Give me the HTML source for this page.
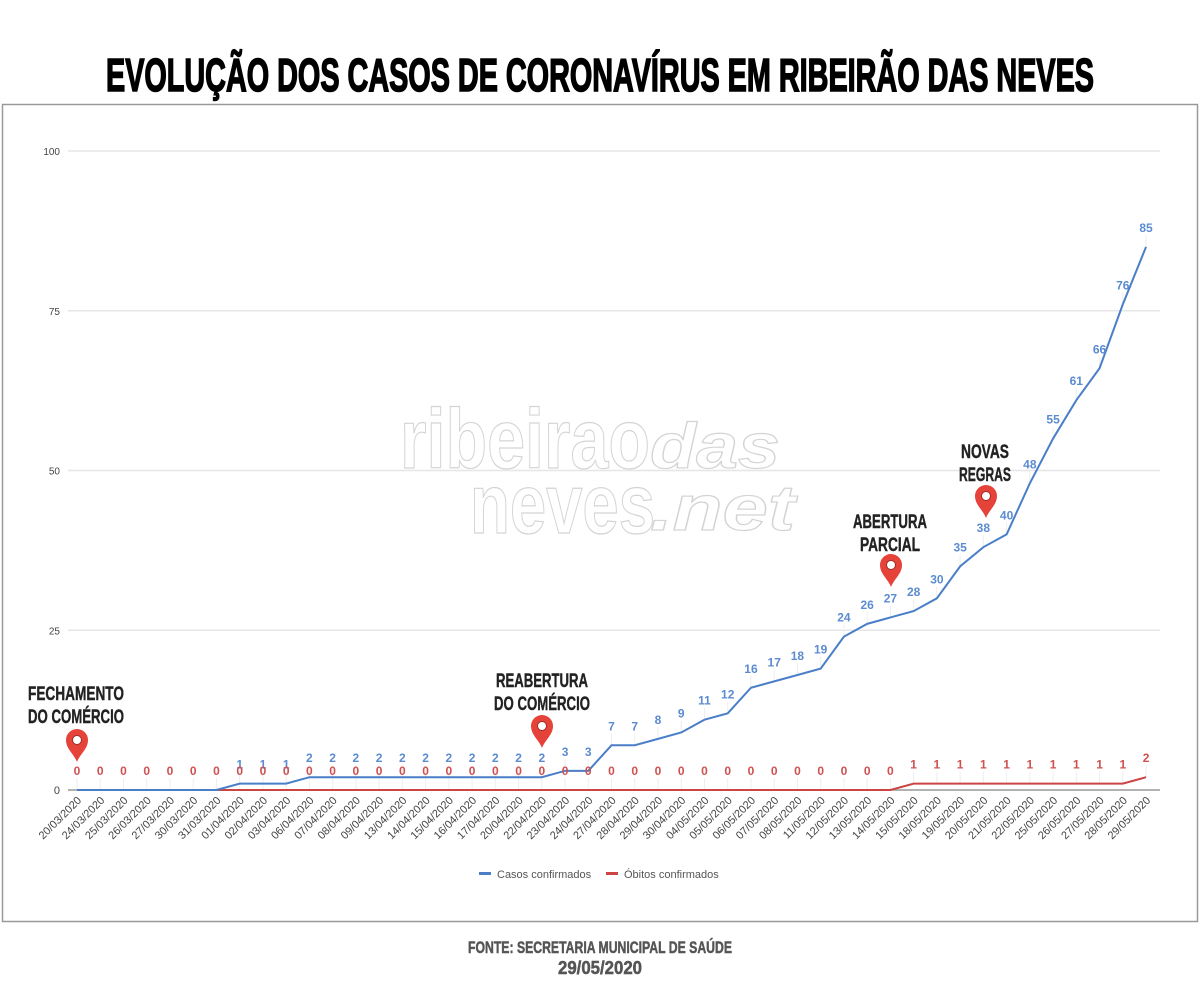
<!DOCTYPE html>
<html><head><meta charset="utf-8"><style>
html,body{margin:0;padding:0;background:#fff;}
svg{display:block;font-family:"Liberation Sans",sans-serif;}
</style></head><body>
<svg id="s" width="1200" height="1000" viewBox="0 0 1200 1000" xmlns="http://www.w3.org/2000/svg">
<rect x="0" y="0" width="1200" height="1000" fill="#fff"/>
<text x="600" y="91" text-anchor="middle" font-family="Liberation Sans Narrow, Liberation Sans, sans-serif" font-weight="bold" font-size="46" textLength="988" lengthAdjust="spacingAndGlyphs" fill="#000" stroke="#000" stroke-width="1.6">EVOLUÇÃO DOS CASOS DE CORONAVÍRUS EM RIBEIRÃO DAS NEVES</text>
<rect x="2.5" y="104.5" width="1195" height="817" fill="#fff" stroke="#999" stroke-width="1.5"/>
<g font-family="Liberation Sans Narrow, Liberation Sans, sans-serif" font-weight="bold" fill="#fff" stroke="#d4d4d4" stroke-width="1.2">
<text x="400" y="468" font-size="84" textLength="250" lengthAdjust="spacingAndGlyphs">ribeirao</text>
<text x="470" y="533" font-size="84" textLength="185" lengthAdjust="spacingAndGlyphs">neves</text>
<text x="650" y="468" font-size="64" font-style="italic" textLength="130" lengthAdjust="spacingAndGlyphs">das</text>
<text x="650" y="530" font-size="64" font-style="italic" textLength="145" lengthAdjust="spacingAndGlyphs">.net</text>
</g>
<g id="chart"></g>
<g font-size="11" fill="#555">
<rect x="479" y="872" width="12" height="3" fill="#4a7fc7"/>
<text x="497" y="878">Casos confirmados</text>
<rect x="606" y="872" width="12" height="3" fill="#cc4444"/>
<text x="624" y="878">Óbitos confirmados</text>
</g>
<g font-family="Liberation Sans Narrow, Liberation Sans, sans-serif" font-weight="bold" fill="#555" stroke="#555" stroke-width="0.5" text-anchor="middle">
<text x="600" y="953" font-size="17" textLength="264" lengthAdjust="spacingAndGlyphs">FONTE: SECRETARIA MUNICIPAL DE SAÚDE</text>
<text x="600" y="974" font-size="18" textLength="84" lengthAdjust="spacingAndGlyphs">29/05/2020</text>
</g>
</svg>
<script>
const dates="20/03/2020,24/03/2020,25/03/2020,26/03/2020,27/03/2020,30/03/2020,31/03/2020,01/04/2020,02/04/2020,03/04/2020,06/04/2020,07/04/2020,08/04/2020,09/04/2020,13/04/2020,14/04/2020,15/04/2020,16/04/2020,17/04/2020,20/04/2020,22/04/2020,23/04/2020,24/04/2020,27/04/2020,28/04/2020,29/04/2020,30/04/2020,04/05/2020,05/05/2020,06/05/2020,07/05/2020,08/05/2020,11/05/2020,12/05/2020,13/05/2020,14/05/2020,15/05/2020,18/05/2020,19/05/2020,20/05/2020,21/05/2020,22/05/2020,25/05/2020,26/05/2020,27/05/2020,28/05/2020,29/05/2020".split(",");
const cases=[0,0,0,0,0,0,0,1,1,1,2,2,2,2,2,2,2,2,2,2,2,3,3,7,7,8,9,11,12,16,17,18,19,24,26,27,28,30,35,38,40,48,55,61,66,76,85];
const deaths=dates.map((d,i)=>i<36?0:(i<46?1:2));
const X=i=>77+i*23.24, Y=v=>790-v*6.39;
let h='';
[100,75,50,25].forEach(v=>{h+=`<line x1="68" x2="1160" y1="${Y(v)}" y2="${Y(v)}" stroke="#e6e6e6" stroke-width="1.5"/><text x="60" y="${Y(v)+4}" font-size="10" fill="#444" text-anchor="end">${v}</text>`;});
h+=`<text x="60" y="794" font-size="11" fill="#444" text-anchor="end">0</text>`;
dates.forEach((d,i)=>{
 if(cases[i]>0) h+=`<line x1="${X(i)}" x2="${X(i)}" y1="${Y(cases[i])-12}" y2="${Y(cases[i])}" stroke="#eee"/>`;
 h+=`<line x1="${X(i)}" x2="${X(i)}" y1="${Y(deaths[i])-12}" y2="${Y(deaths[i])}" stroke="#eee"/>`;
});
h+=`<line x1="68" x2="1160" y1="790" y2="790" stroke="#999" stroke-width="1.5"/>`;
h+=`<polyline fill="none" stroke="#cc4444" stroke-width="2" points="${deaths.map((v,i)=>X(i)+','+Y(v)).join(' ')}"/>`;
h+=`<polyline fill="none" stroke="#4a7fc7" stroke-width="2" points="${cases.map((v,i)=>X(i)+','+Y(v)).join(' ')}"/>`;
dates.forEach((d,i)=>{
 if(cases[i]>0) h+=`<text x="${X(i)}" y="${Y(cases[i])-15}" font-size="12" font-weight="bold" fill="#5b8bd0" text-anchor="middle">${cases[i]}</text>`;
 h+=`<text x="${X(i)}" y="${Y(deaths[i])-15}" font-size="12" font-weight="bold" fill="#d05050" text-anchor="middle">${deaths[i]}</text>`;
 h+=`<text transform="translate(${X(i)+5},801) rotate(-45)" font-size="11" fill="#444" text-anchor="end">${d}</text>`;
});
function pin(x,y){return `<path d="M${x},${y} C${x-3},${y-8} ${x-11},${y-13} ${x-11},${y-22} A11,11 0 1 1 ${x+11},${y-22} C${x+11},${y-13} ${x+3},${y-8} ${x},${y}Z" fill="#e5433a"/><circle cx="${x}" cy="${y-22}" r="4.5" fill="#fff" stroke="#a02a24" stroke-width="1"/>`;}
h+=pin(77,762)+pin(542,748)+pin(891,587)+pin(986,518);
const ann=(x,y,t,w)=>`<text x="${x}" y="${y}" font-family="Liberation Sans Narrow, Liberation Sans, sans-serif" font-weight="bold" font-size="19" fill="#222" stroke="#222" stroke-width="0.4" text-anchor="middle" textLength="${w}" lengthAdjust="spacingAndGlyphs">${t}</text>`;
h+=ann(76,700,"FECHAMENTO",96)+ann(76,723,"DO COMÉRCIO",96);
h+=ann(542,687,"REABERTURA",92)+ann(542,710,"DO COMÉRCIO",96);
h+=ann(890,528,"ABERTURA",74)+ann(890,551,"PARCIAL",60);
h+=ann(985,458,"NOVAS",48)+ann(985,481,"REGRAS",52);
document.getElementById('chart').innerHTML=h;
</script>
</body></html>
